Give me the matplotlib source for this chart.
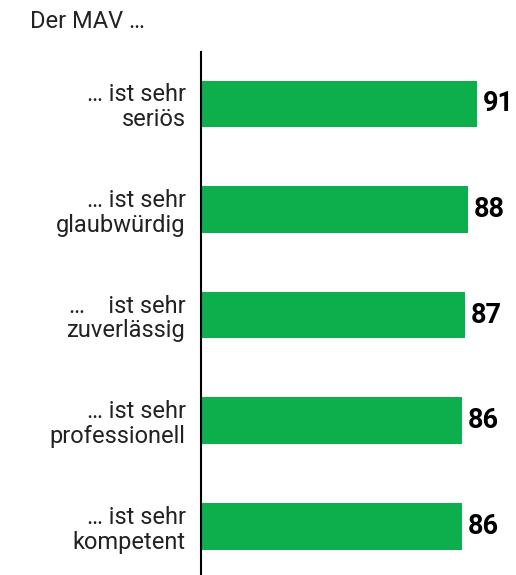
import matplotlib.pyplot as plt

# Werte aus der Grafik
labels = ["… ist sehr\nseriös",
          "… ist sehr\nglaubwürdig",
          "…    ist sehr\nzuverlässig",
          "… ist sehr\nprofessionell",
          "… ist sehr\nkompetent"]
values = [91, 88, 87, 86, 86]

plt.rcParams['font.family'] = ['Roboto', 'DejaVu Sans']

fig = plt.figure(figsize=(5.16, 5.75), dpi=100)
ax = fig.add_axes([201 / 516, 0, 303 / 516, 523 / 575])

y = list(range(len(values)))
ax.barh(y, values, height=0.44, color='#0daf4d')
ax.set_xlim(0, 100)
ax.set_ylim(4.46, -0.49)

for yi, v in zip(y, values):
    ax.text(v + 2, yi, str(v), va='center', ha='left',
            fontsize=19.5, fontweight='bold', color='black')

ax.set_yticks(y)
ax.set_yticklabels(labels, fontsize=17, fontweight='normal', color='#222222',
                   linespacing=1.1)
ax.tick_params(axis='y', length=0, pad=11)
ax.set_xticks([])
for s in ['top', 'right', 'bottom']:
    ax.spines[s].set_visible(False)
ax.spines['left'].set_linewidth(1.5)

fig.text(30 / 516, 1 - 22 / 575, "Der MAV …", fontsize=17, fontweight='normal',
         color='#222222', va='center', ha='left')

fig.savefig('out.png', dpi=100)
